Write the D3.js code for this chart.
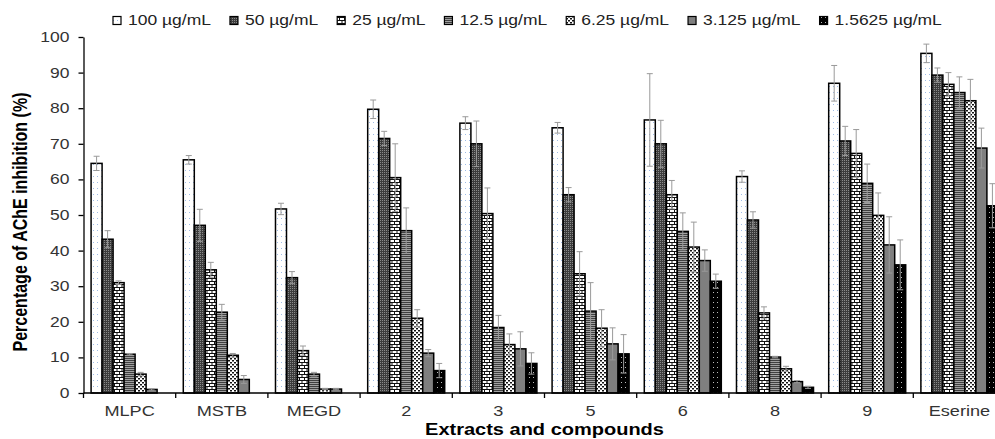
<!DOCTYPE html>
<html>
<head>
<meta charset="utf-8">
<script src="https://cdn.jsdelivr.net/npm/d3@7"></script>
<style>
  body { margin: 0; background: #fff; }
  svg { display: block; font-family: Arial, "Liberation Sans", sans-serif; }
</style>
</head>
<body>
<div id="chart"></div>
<script>
// categories on the x axis
const categories = ["MLPC", "MSTB", "MEGD", "2", "3", "5", "6", "8", "9", "Eserine"];
// concentration series (legend)
const concentrations = ["100 µg/mL", "50 µg/mL", "25 µg/mL", "12.5 µg/mL", "6.25 µg/mL", "3.125 µg/mL", "1.5625 µg/mL"];
const yTicks = [0, 10, 20, 30, 40, 50, 60, 70, 80, 90, 100];

// % inhibition, one row per concentration, one value per category
const inhibition = [
  [64.5, 65.5, 51.7, 79.7, 75.8, 74.5, 76.7, 60.8, 87.0, 95.4],
  [43.2, 47.1, 32.4, 71.5, 70.0, 55.7, 70.0, 48.6, 70.8, 89.3],
  [31.0, 34.6, 11.9, 60.5, 50.4, 33.5, 55.7, 22.5, 67.3, 86.7],
  [10.9, 22.7, 5.3, 45.6, 18.4, 23.0, 45.4, 10.1, 58.9, 84.4],
  [5.3, 10.6, 1.1, 21.0, 13.6, 18.2, 41.0, 6.8, 49.9, 82.1],
  [1.0, 3.8, 1.1, 11.2, 12.4, 13.8, 37.2, 3.2, 41.6, 68.8],
  [0, 0, 0, 6.3, 8.3, 11.0, 31.4, 1.6, 36.0, 52.6]
];
// standard deviations, same layout
const errors = [
  [2.0, 1.2, 1.6, 2.6, 1.8, 1.5, 13.0, 1.6, 5.0, 2.6],
  [2.4, 4.5, 1.7, 2.0, 6.4, 2.0, 6.6, 2.3, 4.1, 2.0],
  [0.5, 2.1, 1.3, 9.5, 7.2, 6.2, 4.0, 1.7, 6.7, 3.3],
  [0.2, 2.2, 0.5, 6.4, 3.4, 8.0, 5.2, 0.2, 5.4, 4.4],
  [0.5, 0.5, 0.2, 2.4, 3.0, 5.2, 7.0, 0.7, 6.3, 6.0],
  [0.2, 1.1, 0.2, 1.0, 4.8, 4.5, 3.0, 0.3, 7.9, 5.6],
  [0, 0, 0, 2.0, 3.0, 5.4, 2.0, 0.3, 7.0, 6.2]
];

var W = 995, H = 439;
var SX = 1.25; // text in the original is stretched horizontally
var margin = {left: 83.5, top: 37, bottom: 393};
var plotRight = 1005.5; // last group runs past the picture edge

var svg = d3.select("#chart").append("svg")
  .attr("width", W)
  .attr("height", H);

// fill patterns, one per concentration
var defs = svg.append("defs");
function pat(id, w, h, bg, rects) {
  var p = defs.append("pattern")
    .attr("id", id)
    .attr("patternUnits", "userSpaceOnUse")
    .attr("width", w)
    .attr("height", h);
  p.append("rect").attr("width", w).attr("height", h).attr("fill", bg);
  rects.forEach(function(r) {
    p.append("rect").attr("x", r[0]).attr("y", r[1]).attr("width", r[2]).attr("height", r[3]).attr("fill", r[4]);
  });
}
pat("p0", 4, 6, "#ffffff", [[1, 2, 1, 1, "#9fbce6"]]);
pat("p1", 2, 2, "#3c3c3c", [[0, 0, 1, 1, "#8a8a8a"]]);
pat("p2", 5, 6, "#111111", [[0, 0, 4, 2, "#ffffff"], [2.5, 3, 4, 2, "#ffffff"], [-2.5, 3, 4, 2, "#ffffff"]]);
pat("p3", 4, 2, "#a0a0a0", [[0, 0, 4, 1, "#404040"]]);
pat("p4", 4, 4, "#ffffff", [[0, 0, 2, 1.5, "#111"], [2, 2, 2, 1.5, "#111"]]);
pat("p5", 4, 4, "#7f7f7f", []);
pat("p6", 4, 5, "#000000", [[1, 2, 1, 1, "#bbbbbb"]]);

var x0 = d3.scaleBand()
  .domain(categories)
  .range([margin.left, plotRight]);

var x1 = d3.scaleBand()
  .domain(d3.range(concentrations.length))
  .range([0, x0.bandwidth()])
  .paddingOuter(0.69);

var y = d3.scaleLinear()
  .domain([0, 100])
  .range([margin.bottom, margin.top]);

// y axis
var yAxis = svg.append("g")
  .attr("transform", "translate(" + margin.left + ",0)")
  .call(d3.axisLeft(y).tickValues(yTicks).tickSize(5).tickSizeOuter(0));
yAxis.select(".domain").attr("stroke", "#000").attr("stroke-width", 1.3);
yAxis.selectAll(".tick line").attr("stroke", "#000").attr("stroke-width", 1.3);
yAxis.selectAll(".tick text")
  .attr("x", -14 / SX)
  .attr("transform", "scale(" + SX + ",1)")
  .attr("font-size", "14px")
  .attr("fill", "#333");

// bars
var series = svg.append("g");
concentrations.forEach(function(c, i) {
  series.append("g")
    .selectAll("rect")
    .data(inhibition[i])
    .enter()
    .append("rect")
    .attr("x", function(d, j) { return x0(categories[j]) + x1(i); })
    .attr("y", function(d) { return y(d); })
    .attr("width", x1.bandwidth())
    .attr("height", function(d) { return y(0) - y(d); })
    .attr("fill", "url(#p" + i + ")")
    .attr("stroke", "#000")
    .attr("stroke-width", 1.5);
});

// error bars
var errG = svg.append("g").attr("stroke", "#9a9a9a").attr("stroke-width", 1);
concentrations.forEach(function(c, i) {
  inhibition[i].forEach(function(v, j) {
    var e = errors[i][j];
    if (e <= 0.05) return;
    var cx = x0(categories[j]) + x1(i) + x1.bandwidth() / 2;
    var lo = Math.max(0, v - e), hi = v + e;
    errG.append("line").attr("x1", cx).attr("x2", cx).attr("y1", y(lo)).attr("y2", y(hi));
    errG.append("line").attr("x1", cx - 3).attr("x2", cx + 3).attr("y1", y(hi)).attr("y2", y(hi));
    errG.append("line").attr("x1", cx - 3).attr("x2", cx + 3).attr("y1", y(lo)).attr("y2", y(lo));
  });
});

// x axis: line, ticks between groups, labels
var xAxis = svg.append("g");
xAxis.append("line")
  .attr("x1", margin.left).attr("x2", plotRight)
  .attr("y1", y(0)).attr("y2", y(0))
  .attr("stroke", "#000").attr("stroke-width", 1.3);
xAxis.selectAll(".xt")
  .data(categories)
  .enter()
  .append("line")
  .attr("x1", function(d) { return x0(d); })
  .attr("x2", function(d) { return x0(d); })
  .attr("y1", y(0)).attr("y2", y(0) + 5)
  .attr("stroke", "#000").attr("stroke-width", 1.3);
xAxis.selectAll(".xl")
  .data(categories)
  .enter()
  .append("text")
  .attr("transform", function(d) {
    return "translate(" + (x0(d) + x0.bandwidth() / 2) + ",416) scale(" + SX + ",1)";
  })
  .attr("text-anchor", "middle")
  .attr("font-size", "14.5px")
  .attr("fill", "#333")
  .text(function(d) { return d; });

// axis titles
svg.append("text")
  .attr("transform", "translate(" + ((margin.left + plotRight) / 2) + ",434.5) scale(" + SX + ",1)")
  .attr("text-anchor", "middle")
  .attr("font-size", "16px")
  .attr("font-weight", "bold")
  .text("Extracts and compounds");

svg.append("text")
  .attr("transform", "translate(27,222) rotate(-90) scale(1," + SX + ")")
  .attr("text-anchor", "middle")
  .attr("font-size", "16px")
  .attr("font-weight", "bold")
  .text("Percentage of AChE inhibition (%)");

// legend, laid out left to right
var legend = svg.append("g");
var lx = 113;
concentrations.forEach(function(c, i) {
  legend.append("rect")
    .attr("x", lx).attr("y", 16.5)
    .attr("width", 8).attr("height", 8)
    .attr("fill", "url(#p" + i + ")")
    .attr("stroke", "#000")
    .attr("stroke-width", 1.2);
  var t = legend.append("text")
    .attr("transform", "translate(" + (lx + 15) + ",25) scale(" + SX + ",1)")
    .attr("font-size", "14px")
    .attr("fill", "#222")
    .text(c);
  lx += 15 + t.node().getComputedTextLength() * SX + 19;
});
</script>
</body>
</html>
